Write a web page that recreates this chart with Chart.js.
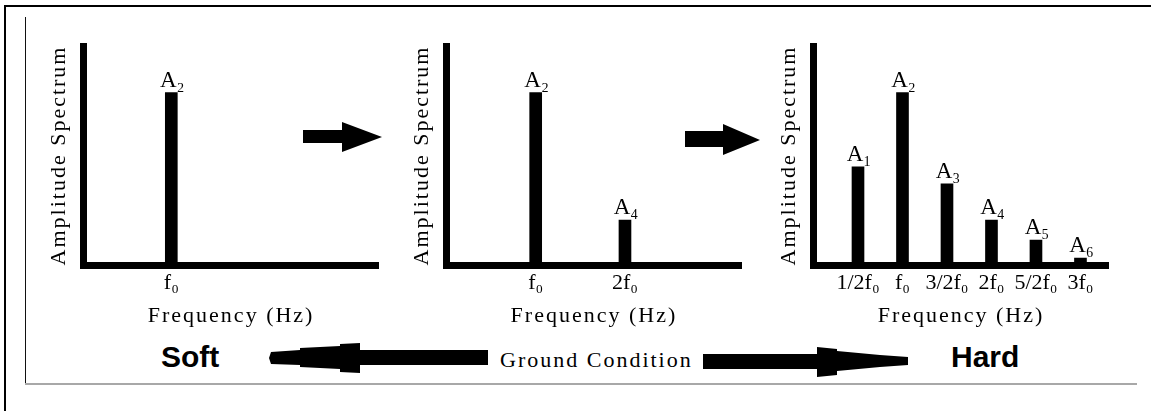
<!DOCTYPE html>
<html><head><meta charset="utf-8">
<script src="https://cdn.jsdelivr.net/npm/chart.js@4.4.1/dist/chart.umd.min.js"></script>
<style>
html,body{margin:0;padding:0;background:#fff;width:1151px;height:411px;overflow:hidden;}
#wrap{position:relative;width:1151px;height:411px;}
canvas.c{position:absolute;left:0;top:0;}
svg{position:absolute;left:0;top:0;}
</style></head><body>
<div id="wrap">
<svg width="1151" height="411" xmlns="http://www.w3.org/2000/svg">
  <rect x="4" y="5" width="1147" height="2" fill="#000"/>
  <rect x="4" y="5" width="2" height="406" fill="#000"/>
  <rect x="25" y="17" width="1" height="367" fill="#111"/>
  <rect x="25" y="383" width="1112" height="2" fill="#a8a8a8"/>
  <polygon points="303,130 342,130 342,122 382,137 342,152 342,143 303,143" fill="#000"/>
  <polygon points="685,131 723,131 723,124 760,140 723,155 723,147 685,147" fill="#000"/>
  <polygon points="271,352 300,350 300,348 340,346 340,344 360,343 360,350 488,350 488,365 360,365 360,373 340,372 340,369 300,367 300,365 271,364 269,358" fill="#000"/>
  <polygon points="703,354 817,354 817,347 837,349 837,351 880,355 908,357 908,365 880,367 837,371 837,375 817,377 817,369 703,369" fill="#000"/>
  <text x="161" y="367" font-family="Liberation Sans, Arial, sans-serif" font-weight="bold" font-size="30" fill="#000">Soft</text>
  <text x="951" y="367" font-family="Liberation Sans, Arial, sans-serif" font-weight="bold" font-size="30" fill="#000">Hard</text>
  <text x="500" y="367" font-family="Liberation Serif, serif" font-size="22" letter-spacing="2" fill="#000">Ground Condition</text>
</svg>
<canvas id="c1" class="c" width="1151" height="411"></canvas>
<canvas id="c2" class="c" width="1151" height="411"></canvas>
<canvas id="c3" class="c" width="1151" height="411"></canvas>
</div>
<script>
// ---- data (frequencies in multiples of f0, relative amplitudes) ----
const xTitle = 'Frequency (Hz)';
const yTitle = 'Amplitude Spectrum';

const p1Freq  = [1];
const p1Amp   = [1.0];
const p1Peaks = ['A₂'];
const p1Ticks = ['f₀'];

const p2Freq  = [1, 2];
const p2Amp   = [1.0, 0.26];
const p2Peaks = ['A₂', 'A₄'];
const p2Ticks = ['f₀', '2f₀'];

const p3Freq  = [0.5, 1, 1.5, 2, 2.5, 3];
const p3Amp   = [0.57, 1.0, 0.47, 0.26, 0.145, 0.04];
const p3Peaks = ['A₁', 'A₂', 'A₃', 'A₄', 'A₅', 'A₆'];
const p3Ticks = ['1/2f₀', 'f₀', '3/2f₀', '2f₀', '5/2f₀', '3f₀'];

const FONT = 'Liberation Serif';

const spacingPlugin = {
  id: 'spacing',
  beforeLayout(chart) { chart.ctx.letterSpacing = '0px'; },
  beforeDraw(chart) { chart.ctx.letterSpacing = '2px'; },
  beforeDatasetsDraw(chart) { chart.ctx.letterSpacing = '0px'; }
};

function peakPlugin(peaks) {
  return {
    id: 'peaks',
    afterDatasetsDraw(chart) {
      const ctx = chart.ctx;
      const meta = chart.getDatasetMeta(0);
      ctx.save();
      ctx.letterSpacing = '0px';
      ctx.fillStyle = '#000';
      ctx.font = '23px "' + FONT + '"';
      ctx.textAlign = 'center';
      ctx.textBaseline = 'alphabetic';
      meta.data.forEach((el, i) => {
        ctx.fillText(peaks[i], el.x + 1, el.y - 6);
      });
      ctx.restore();
    }
  };
}

function makeChart(id, freq, amp, peaks, tickLabels, axisCenter, chartRight, xMax) {
  const W = 1151, H = 411;
  new Chart(document.getElementById(id), {
    type: 'bar',
    data: {
      datasets: [{
        data: freq.map((f, i) => ({ x: f, y: amp[i] })),
        backgroundColor: '#000',
        borderWidth: 0,
        barThickness: 12
      }]
    },
    options: {
      responsive: false,
      animation: false,
      devicePixelRatio: 1,
      events: [],
      layout: { padding: { left: axisCenter - 41.4, right: W - chartRight, top: 46, bottom: 77.2 } },
      plugins: { legend: { display: false }, tooltip: { enabled: false } },
      scales: {
        x: {
          type: 'linear', min: 0, max: xMax, offset: false,
          grid: { display: false, drawTicks: false, offset: false },
          border: { display: true, width: 7, color: '#000' },
          afterBuildTicks: s => { s.ticks = freq.map(v => ({ value: v })); },
          ticks: {
            autoSkip: false, maxRotation: 0, minRotation: 0, padding: 5, z: 1,
            color: '#000', font: { family: FONT, size: 22 },
            callback: (v, i) => tickLabels[i]
          },
          title: { display: true, text: xTitle, color: '#000',
                   font: { family: FONT, size: 22 }, padding: { top: 2, bottom: 4 } }
        },
        y: {
          min: 0, max: 1.27,
          grid: { display: false, drawTicks: false },
          border: { display: true, width: 7, color: '#000' },
          ticks: { display: false },
          title: { display: true, text: yTitle, color: '#000',
                   font: { family: FONT, size: 22 }, padding: { top: 4, bottom: 11 } }
        }
      }
    },
    plugins: [spacingPlugin, peakPlugin(peaks)]
  });
}

makeChart('c1', p1Freq, p1Amp, p1Peaks, p1Ticks, 83.7, 378.5, 3.365);
makeChart('c2', p2Freq, p2Amp, p2Peaks, p2Ticks, 446.4, 741.5, 3.305);
makeChart('c3', p3Freq, p3Amp, p3Peaks, p3Ticks, 813.5, 1108.5, 3.315);
</script>
</body></html>
